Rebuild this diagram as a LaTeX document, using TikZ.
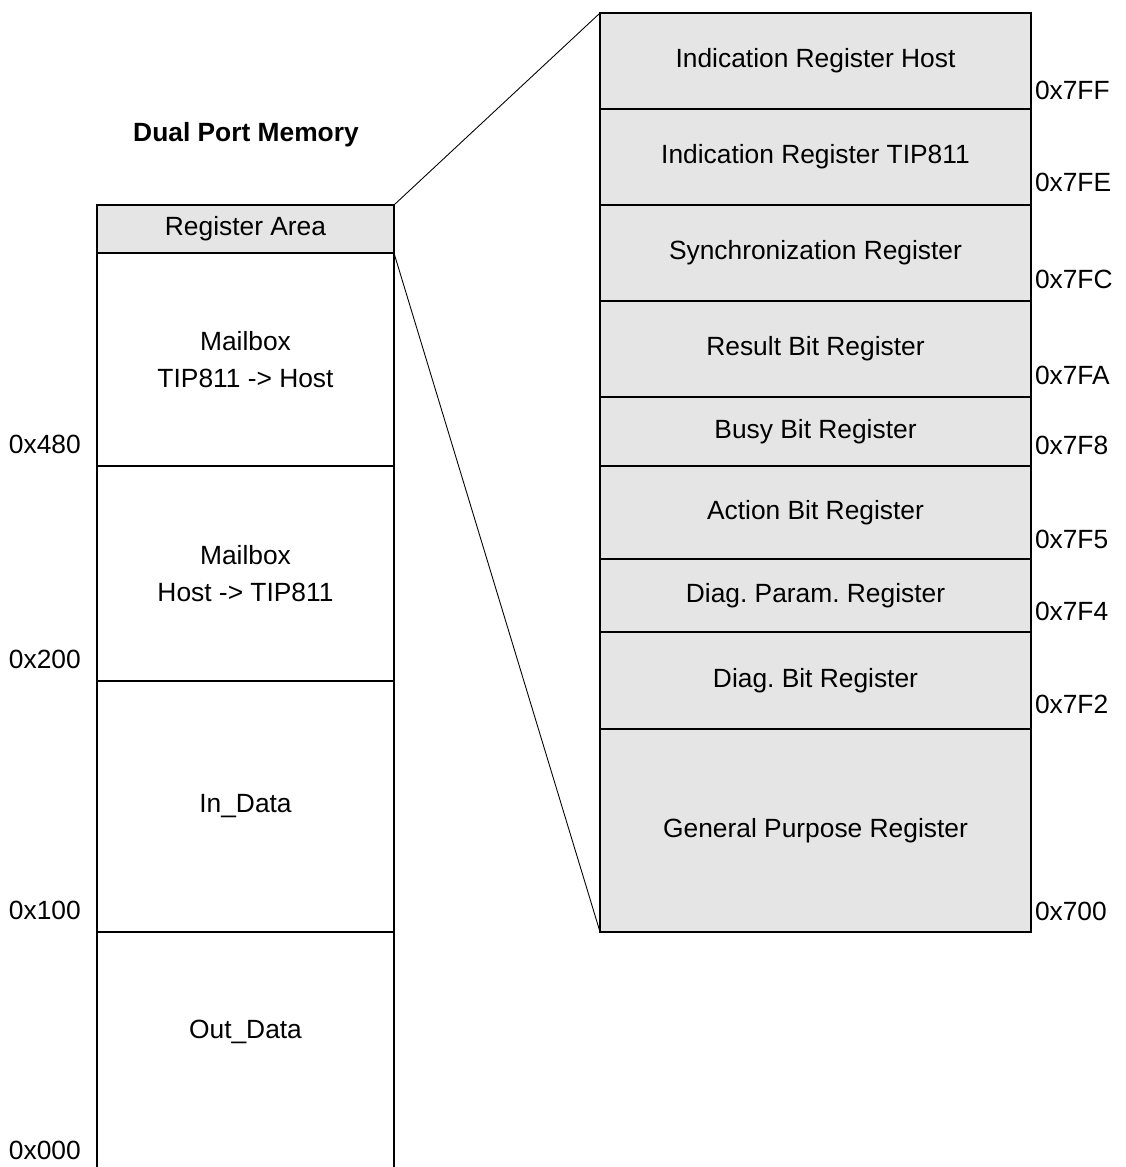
\documentclass[tikz,border=0pt]{standalone}
\usepackage{fontspec}
\setmainfont{Liberation Sans}
\usepackage{tikz}
\usetikzlibrary{positioning}
\frenchspacing

\begin{document}
\begin{tikzpicture}[
    x=0.02cm, y=-0.02cm,
    every node/.style={font=\fontsize{15}{18}\selectfont, inner sep=0pt, outer sep=0pt},
    cell/.style={rectangle, draw, line width=1.1pt, minimum width=5.94cm, align=center},
    reg/.style={rectangle, draw, line width=0.8pt, fill=black!10, minimum width=8.62cm, align=center},
    addr/.style={anchor=west},
    zoomline/.style={line width=0.5pt},
]
    \useasboundingbox (0,0) rectangle (1126,1167);

    % Title
    \node[font=\fontsize{15}{18}\selectfont\bfseries] (title) at (246,135) {Dual Port Memory};

    % Dual port memory map
    \node[cell, fill=black!10, minimum height=0.96cm] (regarea) at (245.5,229) {Register Area};
    \node[cell, minimum height=4.26cm] (mbout) at (245.5,359.5) {Mailbox\\[3pt]TIP811 -> Host};
    \node[cell, minimum height=4.3cm] (mbin) at (245.5,573.5) {Mailbox\\[3pt]Host -> TIP811};
    \node[cell, minimum height=5.02cm] (indata) at (245.5,806.5) {In\_Data};
    \node[minimum width=5.94cm, minimum height=4cm] (outdata) at (245.5,1032) {Out\_Data};
    \coordinate (outbl) at (97,1167);
    \coordinate (outbr) at (394,1167);
    \draw[line width=1.1pt] (outbl) -- (indata.south west) -- (indata.south east) -- (outbr);

    % Addresses of the memory map
    \node[addr] (a480) at (9,444) {0x480};
    \node[addr] (a200) at (9,659) {0x200};
    \node[addr] (a100) at (9,910) {0x100};
    \node[addr] (a000) at (9,1150) {0x000};

    % Register area in detail
    \node[reg, minimum height=1.92cm] (ihost) at (815.5,61) {Indication Register Host};
    \node[reg, minimum height=1.92cm] (itip) at (815.5,157) {Indication Register TIP811};
    \node[reg, minimum height=1.92cm] (sync) at (815.5,253) {Synchronization Register};
    \node[reg, minimum height=1.92cm] (result) at (815.5,349) {Result Bit Register};
    \node[reg, minimum height=1.38cm] (busy) at (815.5,431.5) {Busy Bit Register};
    \node[reg, minimum height=1.86cm] (action) at (815.5,512.5) {Action Bit Register};
    \node[reg, minimum height=1.46cm] (dparam) at (815.5,595.5) {Diag. Param. Register};
    \node[reg, minimum height=1.94cm] (dbit) at (815.5,680.5) {Diag. Bit Register};
    \node[reg, minimum height=4.06cm] (gpreg) at (815.5,830.5) {General Purpose Register};

    % Addresses of the registers
    \node[addr] (a7ff) at (1035,90) {0x7FF};
    \node[addr] (a7fe) at (1035,182) {0x7FE};
    \node[addr] (a7fc) at (1035,279) {0x7FC};
    \node[addr] (a7fa) at (1035,375) {0x7FA};
    \node[addr] (a7f8) at (1035,445) {0x7F8};
    \node[addr] (a7f5) at (1035,539) {0x7F5};
    \node[addr] (a7f4) at (1035,611) {0x7F4};
    \node[addr] (a7f2) at (1035,704) {0x7F2};
    \node[addr] (a700) at (1035,911) {0x700};

    % Zoom lines
    \draw[zoomline] (regarea.north east) -- (ihost.north west);
    \draw[zoomline] (regarea.south east) -- (gpreg.south west);
\end{tikzpicture}
\end{document}
